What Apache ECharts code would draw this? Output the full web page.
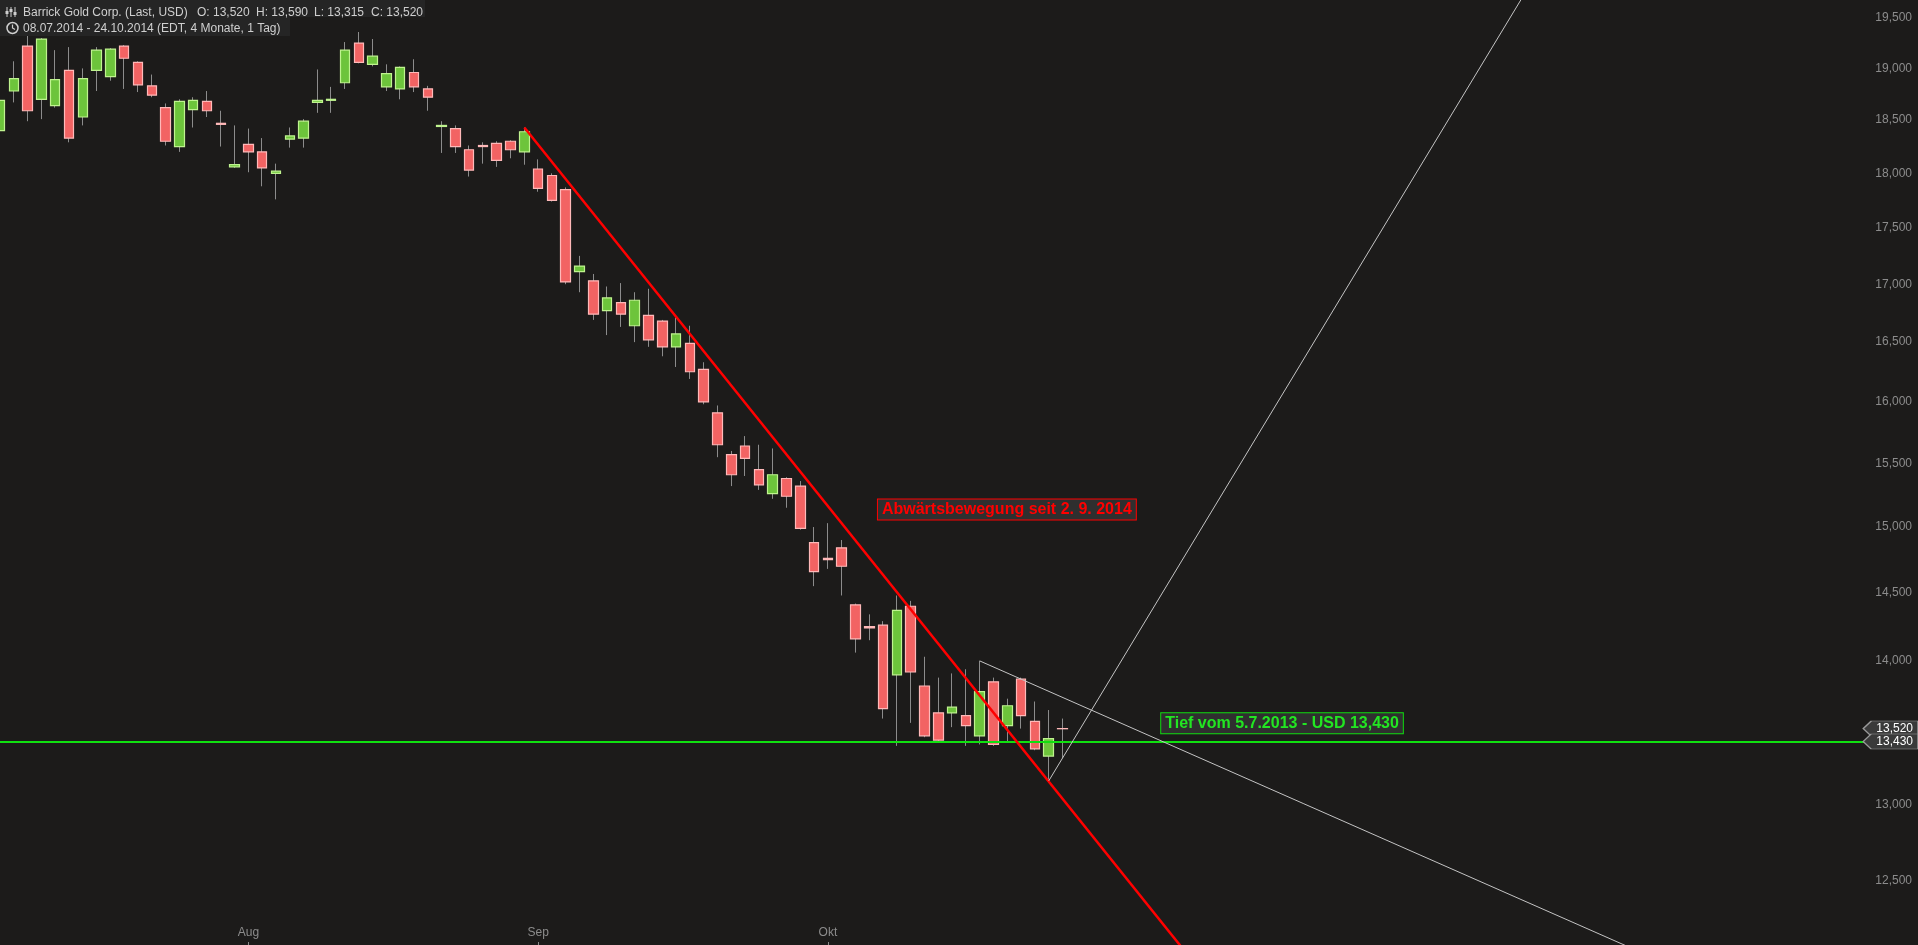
<!DOCTYPE html>
<html><head><meta charset="utf-8">
<script src="https://cdn.jsdelivr.net/npm/echarts@6/dist/echarts.min.js"></script>
<style>html,body{margin:0;padding:0;background:#1c1b1a;overflow:hidden}#c{width:1918px;height:945px}</style>
</head><body><div id="c"></div><script>
// ---- data ----
const dates = [
 '08.07.','09.07.','10.07.','11.07.','14.07.','15.07.','16.07.','17.07.','18.07.','21.07.','22.07.','23.07.','24.07.','25.07.','28.07.','29.07.','30.07.','31.07.',
 '01.08.','04.08.','05.08.','06.08.','07.08.','08.08.','11.08.','12.08.','13.08.','14.08.','15.08.','18.08.','19.08.','20.08.','21.08.','22.08.','25.08.','26.08.','27.08.','28.08.','29.08.',
 '02.09.','03.09.','04.09.','05.09.','08.09.','09.09.','10.09.','11.09.','12.09.','15.09.','16.09.','17.09.','18.09.','19.09.','22.09.','23.09.','24.09.','25.09.','26.09.','29.09.','30.09.',
 '01.10.','02.10.','03.10.','06.10.','07.10.','08.10.','09.10.','10.10.','13.10.','14.10.','15.10.','16.10.','17.10.','20.10.','21.10.','22.10.','23.10.','24.10.'
];
// [open, close, low, high]
const candles = [
 [18.40,18.69,18.07,18.71],[18.78,18.90,18.67,19.07],[19.22,18.59,18.49,19.33],[18.70,19.29,18.51,19.30],
 [18.64,18.89,18.62,19.18],[18.98,18.33,18.29,19.21],[18.53,18.90,18.45,19.00],[18.98,19.18,18.78,19.21],
 [18.92,19.19,18.88,19.20],[19.22,19.10,18.80,19.23],[19.06,18.84,18.77,19.07],[18.83,18.74,18.72,18.94],
 [18.62,18.30,18.26,18.66],[18.25,18.68,18.20,18.70],[18.60,18.69,18.43,18.72],[18.68,18.59,18.53,18.78],
 [18.47,18.46,18.25,18.59],[18.06,18.08,18.05,18.45],[18.27,18.20,18.01,18.42],[18.20,18.05,17.88,18.33],
 [18.00,18.02,17.76,18.09],[18.32,18.35,18.24,18.43],[18.33,18.49,18.24,18.51],[18.67,18.69,18.57,18.99],
 [18.69,18.70,18.57,18.82],[18.86,19.18,18.80,19.26],[19.25,19.06,19.05,19.36],[19.04,19.12,19.02,19.29],
 [18.82,18.95,18.78,19.04],[18.80,19.01,18.70,19.02],[18.96,18.82,18.77,19.09],[18.80,18.72,18.59,18.83],
 [18.44,18.45,18.19,18.49],[18.42,18.25,18.19,18.45],[18.22,18.03,17.97,18.26],[18.26,18.25,18.09,18.29],
 [18.28,18.12,18.06,18.30],[18.30,18.22,18.14,18.31],[18.20,18.39,18.08,18.43],[18.04,17.86,17.83,18.13],
 [17.98,17.75,17.74,18.00],[17.85,17.02,17.00,17.87],[17.11,17.16,16.93,17.25],[17.03,16.74,16.69,17.09],
 [16.77,16.88,16.56,16.98],[16.84,16.74,16.63,17.01],[16.64,16.86,16.50,16.93],[16.73,16.52,16.46,16.96],
 [16.68,16.46,16.38,16.69],[16.46,16.57,16.29,16.71],[16.49,16.25,16.19,16.64],[16.27,16.00,15.98,16.33],
 [15.91,15.65,15.55,15.97],[15.57,15.41,15.32,15.60],[15.64,15.54,15.40,15.72],[15.45,15.33,15.29,15.65],
 [15.26,15.41,15.22,15.62],[15.38,15.24,15.15,15.39],[15.32,14.99,14.98,15.36],[14.88,14.66,14.55,15.00],
 [14.76,14.75,14.68,15.03],[14.84,14.70,14.48,14.90],[14.41,14.16,14.06,14.42],[14.25,14.24,14.15,14.34],
 [14.26,13.66,13.59,14.29],[13.90,14.37,13.40,14.48],[14.40,13.92,13.56,14.44],[13.82,13.47,13.46,14.03],
 [13.63,13.44,13.43,13.88],[13.63,13.67,13.53,13.91],[13.61,13.54,13.40,13.94],[13.47,13.78,13.41,14.00],
 [13.85,13.41,13.40,13.88],[13.54,13.68,13.43,13.73],[13.87,13.61,13.52,13.88],[13.57,13.38,13.37,13.71],
 [13.33,13.45,13.16,13.65],[13.52,13.519,13.315,13.59]
];
const futureSlots = 62;
const yTicks = [12.5,13,14,14.5,15,15.5,16,16.5,17,17.5,18,18.5,19,19.5];
const monthStarts = {18:'Aug', 39:'Sep', 60:'Okt'};
const supportLevel = 13.43;
const lastClose = 13.52;
const redTrend = [[38,18.43],[90,11.62]];
const whiteUp = [[76,13.16],[112,20.10]];
const whiteDown = [[71,14.00],[125,11.82]];
const headerLine1 = ['Barrick Gold Corp. (Last, USD)', 'O: 13,520', 'H: 13,590', 'L: 13,315', 'C: 13,520'];
const headerLine2 = '08.07.2014 - 24.10.2014 (EDT, 4 Monate, 1 Tag)';

// ---- chart ----
const fmt = v => Number(v).toFixed(3).replace('.', ',');
const cats = dates.concat(Array.from({length: futureSlots}, (_, i) => 'f' + i));
const bodies = candles.map(([o, c]) => [o, c, Math.min(o, c), Math.max(o, c)]);
const nCat = cats.length;
const FONT = '"Liberation Sans", Arial, sans-serif';
const TXT = '#cfcfcf';
const h1x = [23, 197, 256, 314, 371];
const ARROW = 'path://M0,7.5 L8,0 L55,0 L55,15 L8,15 Z';

const graphics = [
  {type: 'rect', z: 100, shape: {x: 0, y: 0, width: 425, height: 17}, style: {fill: '#252525'}},
  {type: 'rect', z: 100, shape: {x: 0, y: 17, width: 290, height: 19}, style: {fill: '#252525'}},
  {type: 'line', z: 101, shape: {x1: 7, y1: 7, x2: 7, y2: 17}, style: {stroke: TXT, lineWidth: 1}},
  {type: 'line', z: 101, shape: {x1: 11, y1: 7, x2: 11, y2: 17}, style: {stroke: TXT, lineWidth: 1}},
  {type: 'line', z: 101, shape: {x1: 15, y1: 7, x2: 15, y2: 17}, style: {stroke: TXT, lineWidth: 1}},
  {type: 'rect', z: 101, shape: {x: 5.5, y: 11, width: 3, height: 3}, style: {fill: TXT}},
  {type: 'rect', z: 101, shape: {x: 9.5, y: 9, width: 3, height: 3}, style: {fill: TXT}},
  {type: 'rect', z: 101, shape: {x: 13.5, y: 12, width: 3, height: 3}, style: {fill: TXT}},
  {type: 'circle', z: 101, shape: {cx: 12.5, cy: 28, r: 5.5}, style: {stroke: TXT, fill: 'none', lineWidth: 1.5}},
  {type: 'polyline', z: 101, shape: {points: [[12.5, 24.5], [12.5, 28], [15, 29.5]]}, style: {stroke: TXT, fill: 'none', lineWidth: 1.2}},
  {type: 'text', z: 101, x: 23, y: 28.5, style: {text: headerLine2, fill: TXT, font: '12px ' + FONT, verticalAlign: 'middle'}}
].concat(headerLine1.map((t, i) => ({type: 'text', z: 101, x: h1x[i], y: 12.5,
  style: {text: t, fill: TXT, font: '12px ' + FONT, verticalAlign: 'middle'}})));

const chart = echarts.init(document.getElementById('c'));
chart.setOption({
  backgroundColor: '#1c1b1a',
  animation: false,
  grid: {left: -2, right: 0, top: 0, bottom: 0, containLabel: false},
  xAxis: [{
    type: 'category', data: cats, boundaryGap: false,
    axisLine: {show: false},
    axisTick: {show: true, inside: true, length: 3, interval: i => i in monthStarts, lineStyle: {color: '#8c8c8c'}},
    axisLabel: {inside: true, margin: 6, color: '#8c8c8c', fontSize: 12, fontFamily: FONT,
      interval: i => i in monthStarts, formatter: (v, i) => monthStarts[i] || ''},
    splitLine: {show: false}
  }, {
    type: 'value', min: 0, max: nCat - 1, show: false
  }],
  yAxis: [{
    type: 'log', logBase: 10, position: 'right', min: 12.093, max: 19.682,
    axisLine: {show: false}, splitLine: {show: false}, minorTick: {show: false},
    axisTick: {show: true, inside: true, length: 5, lineStyle: {color: '#8c8c8c'}, customValues: yTicks},
    axisLabel: {inside: true, margin: 6, color: '#8c8c8c', fontSize: 12, fontFamily: FONT, customValues: yTicks, formatter: fmt}
  }],
  series: [
    { // wicks
      type: 'candlestick', data: candles, barWidth: 1, silent: true,
      itemStyle: {color: '#8c8c8c', color0: '#8c8c8c', borderColor: '#8c8c8c', borderColor0: '#8c8c8c', borderWidth: 1},
      emphasis: {disabled: true}, z: 2
    },
    { // bodies
      type: 'candlestick', data: bodies, barWidth: 10, silent: true,
      itemStyle: {color: '#6dc43b', color0: '#f26363', borderColor: '#bff38f', borderColor0: '#ffb9b9', borderWidth: 1.2},
      emphasis: {disabled: true}, z: 3
    },
    {
      type: 'line', xAxisIndex: 1, data: redTrend, showSymbol: false, silent: true, clip: true, z: 5,
      lineStyle: {color: '#ff0000', width: 2.5}
    },
    {
      type: 'line', xAxisIndex: 1, data: whiteUp, showSymbol: false, silent: true, clip: true, z: 5,
      lineStyle: {color: '#c4c4c4', width: 1},
      markLine: {silent: true, symbol: ['none', 'none'], label: {show: false},
        lineStyle: {color: '#10e010', width: 2, type: 'solid'}, data: [{yAxis: supportLevel}]}
    },
    {
      type: 'line', xAxisIndex: 1, data: whiteDown, showSymbol: false, silent: true, clip: true, z: 6,
      lineStyle: {color: '#c4c4c4', width: 1},
      markPoint: {
        silent: true,
        data: [
          {coord: [72.97, 15.137], symbol: 'rect', symbolSize: 1, itemStyle: {color: 'rgba(0,0,0,0)'},
           label: {show: true, position: 'inside', formatter: 'Abwärtsbewegung seit 2. 9. 2014', color: '#ff0000',
             fontSize: 16, fontWeight: 'bold', fontFamily: FONT, backgroundColor: '#2f2f2f', borderColor: '#ff0000', borderWidth: 1,
             padding: [2, 4, 1, 4], lineHeight: 17}},
          {coord: [92.91, 13.558], symbol: 'rect', symbolSize: 1, itemStyle: {color: 'rgba(0,0,0,0)'},
           label: {show: true, position: 'inside', formatter: 'Tief vom 5.7.2013 - USD 13,430', color: '#22e622',
             fontSize: 16, fontWeight: 'bold', fontFamily: FONT, backgroundColor: '#2f2f2f', borderColor: '#10dd10', borderWidth: 1,
             padding: [2, 4, 1, 4], lineHeight: 17}},
          {coord: [137.02, lastClose], symbol: ARROW, symbolSize: [55, 15],
           itemStyle: {color: '#3a3a3a', borderColor: '#9a9a9a', borderWidth: 1},
           label: {show: true, position: 'inside', offset: [4, 0], formatter: fmt(lastClose), color: '#ffffff', fontSize: 12, fontFamily: FONT}},
          {coord: [137.02, supportLevel], symbol: ARROW, symbolSize: [55, 15],
           itemStyle: {color: '#3a3a3a', borderColor: '#9a9a9a', borderWidth: 1},
           label: {show: true, position: 'inside', offset: [4, 0], formatter: fmt(supportLevel), color: '#ffffff', fontSize: 12, fontFamily: FONT}}
        ]
      }
    }
  ],
  graphic: graphics
});
</script></body></html>
